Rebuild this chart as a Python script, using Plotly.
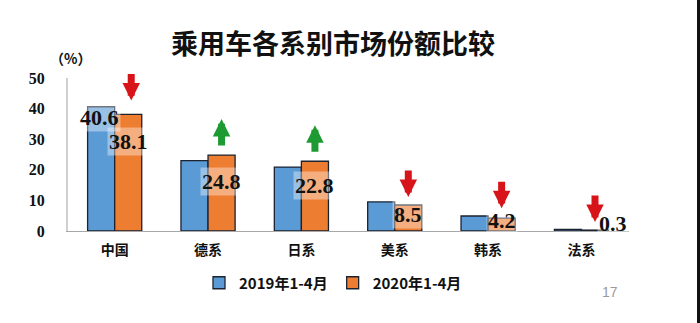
import plotly.graph_objects as go

categories = ["中国", "德系", "日系", "美系", "韩系", "法系"]
share_2019 = [40.6, 23.0, 20.9, 9.5, 4.9, 0.5]
share_2020 = [38.1, 24.8, 22.8, 8.5, 4.2, 0.3]
trend = ["down", "up", "up", "down", "down", "down"]
series_names = ["2019年1-4月", "2020年1-4月"]
y_ticks = [0, 10, 20, 30, 40, 50]

BLUE = "#5b9bd5"
ORANGE = "#ed7d31"
EDGE = "#1b2230"
RED = "#d7141a"
GREEN = "#1e9a32"
SERIF = "Liberation Serif"
CJK = "Noto Sans CJK SC"

pl, pr, pt, pb = 68, 71, 78, 92
pw, ph = 700 - pl - pr, 323 - pt - pb

fig = go.Figure()
fig.add_bar(x=categories, y=share_2019, name=series_names[0], marker_color=BLUE,
            marker_line=dict(color=EDGE, width=1.3))
fig.add_bar(x=categories, y=share_2020, name=series_names[1], marker_color=ORANGE,
            marker_line=dict(color=EDGE, width=1.3))

off = 0.145  # orange bar centre offset within a category (in category units)
annotations = []
label_shift = {0: (0, -27), 1: (0, -26), 2: (0, -24), 3: (0, -10), 4: (0, -2), 5: (18, 7)}
for i, v in enumerate(share_2020):
    dx, dy = label_shift[i]
    annotations.append(dict(x=i + off, y=v, xref="x", yref="y", text=f"{v}",
                            showarrow=False, xshift=dx, yshift=dy,
                            font=dict(family=SERIF, size=22, color="#111111", weight="bold"),
                            bgcolor="rgba(255,255,255,0.38)", borderpad=1))
annotations.append(dict(x=0 - off, y=share_2019[0], xref="x", yref="y", text=f"{share_2019[0]}",
                        showarrow=False, xshift=-2, yshift=-11,
                        font=dict(family=SERIF, size=22, color="#111111", weight="bold"),
                        bgcolor="rgba(255,255,255,0.38)", borderpad=1))
gap_down = {0: 14, 3: 8, 4: 10, 5: 8}
for i, (v, t) in enumerate(zip(share_2020, trend)):
    if t == "down":
        annotations.append(dict(x=i + off, y=v, xref="x", yref="y", text="",
                                showarrow=True, arrowhead=2, arrowsize=0.5, arrowwidth=7,
                                arrowcolor=RED, ax=0, ay=-28, yshift=gap_down.get(i, 9),
                                xshift=3 if i == 0 else 0))
    else:
        annotations.append(dict(x=i + off, y=v, xref="x", yref="y", text="",
                                showarrow=True, arrowhead=2, arrowsize=0.5, arrowwidth=7,
                                arrowcolor=GREEN, ax=0, ay=28, yshift=36))
annotations.append(dict(x=(70 - pl) / pw, y=(323 - pb - 58) / ph, xref="paper", yref="paper",
                        xanchor="center", yanchor="middle", text="（%）",
                        showarrow=False, font=dict(family=CJK, size=14, color="#111111", weight="bold")))
annotations.append(dict(x=(610 - pl) / pw, y=(323 - pb - 292) / ph, xref="paper", yref="paper",
                        xanchor="center", yanchor="middle", text="17", showarrow=False,
                        font=dict(family="Liberation Sans", size=14, color="#9a9a9a")))

fig.update_layout(
    width=700, height=323,
    margin=dict(l=pl, r=pr, t=pt, b=pb),
    paper_bgcolor="white", plot_bgcolor="white",
    barmode="group", bargap=0.42, bargroupgap=0,
    title=dict(text="乘用车各系别市场份额比较", x=333 / 700, xanchor="center",
               y=1 - 45 / 323, yanchor="middle",
               font=dict(family=CJK, size=27, color="#111111", weight="bold")),
    xaxis=dict(showline=True, linecolor="#a8a8a8", linewidth=1.2, ticks="",
               tickfont=dict(family=CJK, size=14, color="#111111", weight="bold"),
               showgrid=False, ticklabelstandoff=6),
    yaxis=dict(range=[0, 50], tickvals=y_ticks, showline=True, linecolor="#d0d0d0",
               linewidth=2, showgrid=False, zeroline=False, ticks="",
               tickfont=dict(family=SERIF, size=16, color="#111111", weight="bold"),
               ticklabelstandoff=18),
    legend=dict(orientation="h", x=(333 - pl) / pw, xanchor="center",
                y=(323 - pb - 283) / ph, yanchor="middle",
                font=dict(family=CJK, size=15, color="#111111", weight="bold"),
                itemwidth=30, itemclick=False),
    annotations=annotations,
    shapes=[dict(type="rect", xref="paper", yref="paper",
                 x0=(697 - pl) / pw, x1=(701 - pl) / pw,
                 y0=-pb / ph - 0.05, y1=1 + pt / ph + 0.05,
                 fillcolor="#111111", line_width=0, layer="above")],
)

fig.write_html("out.html")
